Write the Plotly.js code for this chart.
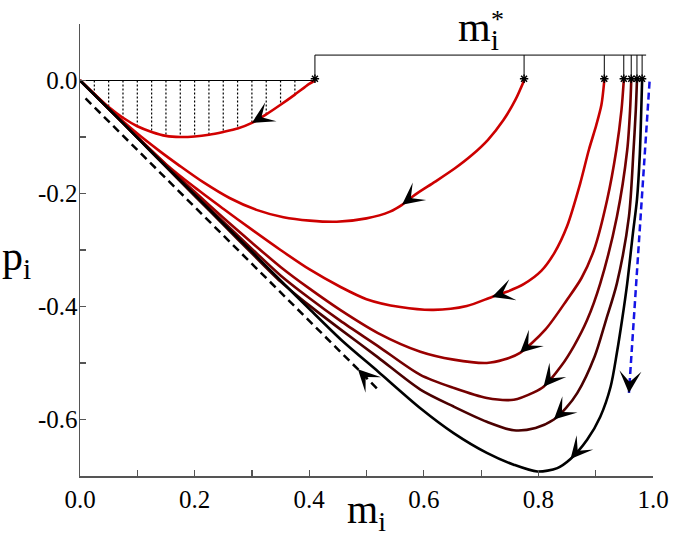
<!DOCTYPE html>
<html><head><meta charset="utf-8">
<script src="https://cdn.plot.ly/plotly-3.0.1.min.js"></script>
<style>html,body{margin:0;padding:0;background:#fff}</style>
</head><body><div id="chart" style="width:675px;height:541px"></div>
<script>
// ---- tick labels ----
const xTickVals = [0,0.1,0.2,0.3,0.4,0.5,0.6,0.7,0.8,0.9,1.0];
const xTickText = ['0.0','','0.2','','0.4','','0.6','','0.8','','1.0'];
const yTickVals = [-0.7,-0.6,-0.5,-0.4,-0.3,-0.2,-0.1,0.0,0.1];
const yTickText = ['','-0.6','','-0.4','','-0.2','','0.0',''];

// ---- fixed points m*_i (stars) ----
const starM = [0.410,0.775,0.915,0.949,0.962,0.972,0.981];
const bracketTopP = 0.045;
const bracketEndM = 0.988;

// ---- trajectories (ordered from m*_i toward the origin) ----
const m1 = [0.410,0.400,0.375,0.350,0.325,0.300,0.275,0.250,0.225,0.200,0.175,0.150,0.125,0.100,0.075,0.050,0.025,0.000];
const p1 = [0.000,-0.006,-0.025,-0.043,-0.060,-0.075,-0.085,-0.091,-0.096,-0.099,-0.100,-0.098,-0.091,-0.081,-0.066,-0.047,-0.024,0.000];

const m2 = [0.775,0.760,0.739,0.712,0.684,0.655,0.620,0.585,0.562,0.541,0.500,0.448,0.401,0.355,0.308,0.261,0.215,0.174,0.139,0.100,0.050,0.000];
const p2 = [0.000,-0.034,-0.070,-0.105,-0.132,-0.155,-0.179,-0.202,-0.220,-0.232,-0.244,-0.250,-0.248,-0.242,-0.229,-0.208,-0.180,-0.151,-0.125,-0.094,-0.049,0.000];

const m3 = [0.915,0.910,0.901,0.888,0.873,0.850,0.828,0.805,0.775,0.745,0.719,0.675,0.617,0.559,0.500,0.454,0.400,0.350,0.300,0.250,0.200,0.150,0.100,0.050,0.000];
const p3 = [0.000,-0.043,-0.079,-0.123,-0.182,-0.258,-0.305,-0.337,-0.360,-0.374,-0.383,-0.399,-0.406,-0.401,-0.387,-0.365,-0.334,-0.300,-0.264,-0.227,-0.189,-0.148,-0.100,-0.050,0.000];

const m4 = [0.949,0.945,0.936,0.920,0.897,0.875,0.850,0.812,0.768,0.740,0.710,0.652,0.594,0.520,0.454,0.400,0.350,0.300,0.250,0.200,0.150,0.100,0.050,0.000];
const p4 = [0.000,-0.052,-0.123,-0.211,-0.300,-0.350,-0.388,-0.441,-0.482,-0.494,-0.500,-0.494,-0.480,-0.447,-0.406,-0.368,-0.330,-0.287,-0.243,-0.197,-0.149,-0.100,-0.050,0.000];

const m5 = [0.962,0.960,0.955,0.937,0.908,0.885,0.862,0.840,0.809,0.792,0.757,0.710,0.652,0.594,0.520,0.454,0.400,0.350,0.300,0.250,0.200,0.150,0.100,0.050,0.000];
const p5 = [0.000,-0.052,-0.123,-0.241,-0.359,-0.424,-0.470,-0.505,-0.542,-0.552,-0.565,-0.562,-0.544,-0.521,-0.470,-0.425,-0.385,-0.345,-0.298,-0.250,-0.201,-0.151,-0.101,-0.050,0.000];

const m6 = [0.972,0.970,0.966,0.958,0.937,0.918,0.898,0.868,0.848,0.827,0.795,0.757,0.710,0.652,0.594,0.520,0.454,0.400,0.350,0.300,0.250,0.200,0.150,0.100,0.050,0.000];
const p6 = [0.000,-0.052,-0.123,-0.241,-0.359,-0.424,-0.489,-0.553,-0.580,-0.600,-0.615,-0.619,-0.604,-0.577,-0.547,-0.490,-0.440,-0.398,-0.356,-0.306,-0.255,-0.204,-0.153,-0.101,-0.050,0.000];

const m7 = [0.981,0.979,0.977,0.972,0.965,0.955,0.946,0.937,0.926,0.908,0.885,0.856,0.833,0.798,0.757,0.710,0.652,0.594,0.520,0.459,0.400,0.350,0.300,0.250,0.200,0.150,0.100,0.050,0.000];
const p7 = [0.000,-0.070,-0.130,-0.211,-0.270,-0.359,-0.424,-0.482,-0.542,-0.595,-0.636,-0.670,-0.686,-0.692,-0.680,-0.659,-0.624,-0.580,-0.515,-0.462,-0.404,-0.354,-0.303,-0.253,-0.202,-0.152,-0.101,-0.050,0.000];

// index of the arrow tip on each trajectory
const arrowIdx = [5,8,10,8,8,9,11];

// dashed asymptote (flow toward origin) and blue dashed jump
const mDash = [0.518,0.485,0.005];
const pDash = [-0.545,-0.511,-0.027];
const mBlue = [0.994,0.958];
const pBlue = [-0.002,-0.553];

const curveColors = ['rgb(210,0,0)','rgb(205,0,0)','rgb(200,0,0)','rgb(155,0,0)','rgb(115,0,0)','rgb(75,0,0)','rgb(0,0,0)'];

const curvesM = [m1,m2,m3,m4,m5,m6,m7];
const curvesP = [p1,p2,p3,p4,p5,p6,p7];

const serif = 'Liberation Serif';
const MARGIN = {l:80,r:22,t:24,b:65};
const W = 675 - MARGIN.l - MARGIN.r, H = 541 - MARGIN.t - MARGIN.b;
const XR = [0,1], YR = [-0.7,0.1];
const traces = [];

// hatch (dotted verticals between p=0 and first trajectory)
const hx = [], hy = [];
m1.forEach((m,i)=>{ if(m>0.001 && m<0.39){ hx.push(m,m,null); hy.push(0,p1[i],null);} });
traces.push({x:hx,y:hy,mode:'lines',line:{color:'#000',width:1.2,dash:'2px,2px'},hoverinfo:'skip'});
// p=0 segment
traces.push({x:[0,m1[0]],y:[0,0],mode:'lines',line:{color:'#000',width:1},hoverinfo:'skip'});

// black dashed line
traces.push({x:mDash,y:pDash,mode:'lines',line:{color:'#000',width:2.5,dash:'8px,5px'},hoverinfo:'skip'});

// trajectories
curvesM.forEach((mm,k)=>{
  traces.push({x:mm,y:curvesP[k],mode:'lines',line:{color:curveColors[k],width:2.6,shape:'spline',smoothing:0.8},hoverinfo:'skip'});
});

// blue dashed
traces.push({x:mBlue,y:pBlue,mode:'lines',line:{color:'rgb(20,20,230)',width:2.5,dash:'7px,4px'},hoverinfo:'skip'});

// bracket for m*
const bx=[], by=[];
starM.forEach(m=>{ bx.push(m,m,null); by.push(0.008,bracketTopP,null); });
bx.push(starM[0],bracketEndM); by.push(bracketTopP,bracketTopP);
traces.push({x:bx,y:by,mode:'lines',line:{color:'#000',width:1},hoverinfo:'skip'});

// stars
traces.push({x:starM,y:starM.map(()=>0.003),mode:'markers',marker:{symbol:'asterisk-open',size:7,color:'#000',line:{color:'#000',width:1.5}},hoverinfo:'skip'});

// arrowheads as annotations: tip on data point, short tail toward the previous point
const annots = [];
function arrowAnn(x0,y0,x1,y1){
  const dx = (x0-x1)/(XR[1]-XR[0])*W;
  const dy = -(y0-y1)/(YR[1]-YR[0])*H;
  const L = Math.hypot(dx,dy)||1, tail = 11;
  annots.push({x:x1,y:y1,xref:'x',yref:'y',ax:dx/L*tail,ay:dy/L*tail,text:'',showarrow:true,
    arrowhead:3,arrowsize:2.3,arrowwidth:1.6,arrowcolor:'#000',standoff:0,startstandoff:0});
}
curvesM.forEach((mm,k)=>{ const i=arrowIdx[k]; arrowAnn(mm[i-1],curvesP[k][i-1],mm[i],curvesP[k][i]); });
arrowAnn(mDash[0],pDash[0],mDash[1],pDash[1]);
arrowAnn(mBlue[0],pBlue[0],mBlue[1],pBlue[1]);

// texts
annots.push(
  {xref:'paper',yref:'paper',x:0.5,y:-0.021,xanchor:'center',yanchor:'top',text:'m<sub>i</sub>',showarrow:false,font:{family:serif,size:40,color:'#000'}},
  {xref:'paper',yref:'paper',x:-0.14,y:0.48,xanchor:'left',yanchor:'middle',text:'p<sub>i</sub>',showarrow:false,font:{family:serif,size:42,color:'#000'}},
  {xref:'paper',yref:'paper',x:0.696,y:0.987,xanchor:'center',yanchor:'middle',text:'m<sub>i</sub>',showarrow:false,font:{family:serif,size:42,color:'#000'}},
  {xref:'paper',yref:'paper',x:0.729,y:1.01,xanchor:'center',yanchor:'middle',text:'*',showarrow:false,font:{family:serif,size:26,color:'#000'}}
);

const axisCommon = {showgrid:false,zeroline:false,showline:true,linecolor:'#555',linewidth:1.5,
  ticks:'inside',ticklen:6,tickwidth:1.2,tickcolor:'#555',tickmode:'array',
  tickfont:{family:serif,size:25,color:'#000'}};
const layout = {
  width:675,height:541,margin:MARGIN,
  paper_bgcolor:'#fff',plot_bgcolor:'#fff',
  showlegend:false,hovermode:false,
  font:{family:serif,color:'#000'},
  xaxis:Object.assign({},axisCommon,{range:XR,tickvals:xTickVals,ticktext:xTickText}),
  yaxis:Object.assign({},axisCommon,{range:YR,tickvals:yTickVals,ticktext:yTickText,ticklabelstandoff:-4}),
  annotations:annots
};
Plotly.newPlot('chart',traces,layout,{staticPlot:true});
</script></body></html>
